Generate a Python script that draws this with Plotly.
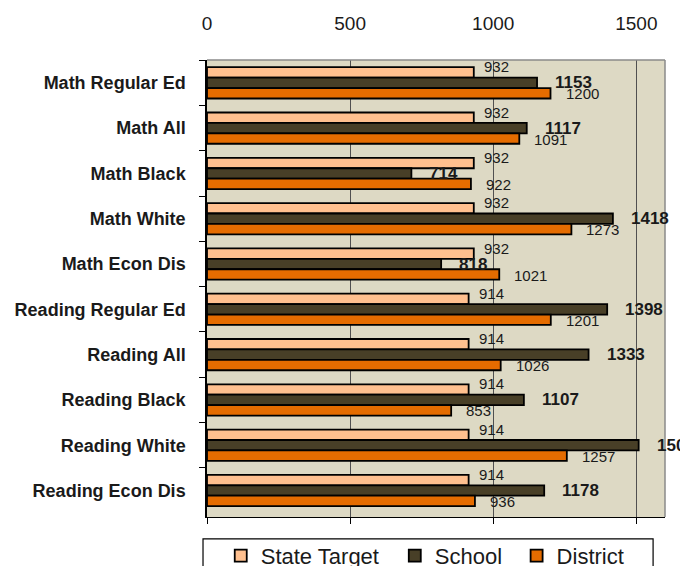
import plotly.graph_objects as go

categories = ["Math Regular Ed", "Math All", "Math Black", "Math White", "Math Econ Dis",
              "Reading Regular Ed", "Reading All", "Reading Black", "Reading White", "Reading Econ Dis"]
state_target = [932, 932, 932, 932, 932, 914, 914, 914, 914, 914]
school = [1153, 1117, 714, 1418, 818, 1398, 1333, 1107, 1508, 1178]
district = [1200, 1091, 922, 1273, 1021, 1201, 1026, 853, 1257, 936]
x_ticks = [0, 500, 1000, 1500]

# name, values, colour, bold label, label xshift, label yshift, legend id, legend x
series = [
    ("State Target", state_target, "#FFC08F", False, 8, 16, "legend", 0.030),
    ("School", school, "#483F27", True, 16, 0, "legend2", 0.410),
    ("District", district, "#E56C00", False, 13, -11, "legend3", 0.676),
]

FONT = "Liberation Sans, Arial, sans-serif"

fig = go.Figure()
annotations = []
legends = {}
for name, vals, color, bold, xs, ys, lg, lx in series:
    fig.add_trace(go.Bar(
        y=categories, x=vals, name=name, orientation="h", legend=lg,
        marker=dict(color=color, line=dict(color="#000000", width=1.8)),
        hoverinfo="skip",
    ))
    legends[lg] = dict(orientation="h", x=lx, xanchor="left", y=-0.085, yanchor="middle",
                       bgcolor="rgba(0,0,0,0)", borderwidth=0,
                       font=dict(family=FONT, size=22, color="#1a1a1a"))
    for c, v in zip(categories, vals):
        annotations.append(dict(
            x=v, y=c, xref="x", yref="y", text=f"<b>{v}</b>" if bold else str(v),
            showarrow=False, xanchor="left", yanchor="middle", xshift=xs, yshift=ys,
            font=dict(family=FONT, size=17 if bold else 15, color="#1a1a1a"),
        ))

# invisible helper so the top axis (tick labels) is drawn
fig.add_trace(go.Scatter(x=[x_ticks[0]], y=[categories[0]], xaxis="x2", mode="none",
                         showlegend=False, hoverinfo="skip"))

fig.update_layout(
    width=680, height=558,
    margin=dict(l=199, r=23, t=52, b=49, autoexpand=False),
    paper_bgcolor="white", plot_bgcolor="#DDD9C4",
    barmode="group", bargap=0.31, bargroupgap=0,
    font=dict(family=FONT, color="#1a1a1a"),
    annotations=annotations,
    showlegend=True,
    **legends,
    xaxis=dict(range=[0, 1600], tickvals=x_ticks, showticklabels=False,
               ticks="outside", ticklen=6, tickcolor="#000000",
               showgrid=True, gridcolor="#505050", gridwidth=1,
               showline=True, linecolor="#000000", linewidth=1, zeroline=False),
    xaxis2=dict(matches="x", overlaying="x", side="top", anchor="y",
                tickvals=x_ticks, ticktext=[str(t) for t in x_ticks],
                showgrid=False, ticks="", showline=False, zeroline=False,
                ticklabelstandoff=25,
                tickfont=dict(family=FONT, size=19, color="#1a1a1a")),
    yaxis=dict(autorange="reversed", tickson="boundaries", ticks="outside", ticklen=6,
               tickcolor="#000000", showline=True, linecolor="#000000", linewidth=1.5,
               showgrid=False, ticklabelstandoff=16,
               tickfont=dict(family=FONT, size=18, color="#1a1a1a", weight="bold")),
    shapes=[dict(type="line", xref="paper", yref="paper", x0=0, x1=1, y0=1, y1=1,
                 line=dict(color="#8a8a8a", width=1.5)),
            dict(type="line", xref="paper", yref="paper", x0=1, x1=1, y0=0, y1=1,
                 line=dict(color="#8a8a8a", width=1.5)),
            dict(type="rect", xref="paper", yref="paper", x0=-0.0087, x1=0.974,
                 y0=-0.048, y1=-0.25, fillcolor="white", layer="below",
                 line=dict(color="#000000", width=1.2))],
)

fig.write_html("out.html")
